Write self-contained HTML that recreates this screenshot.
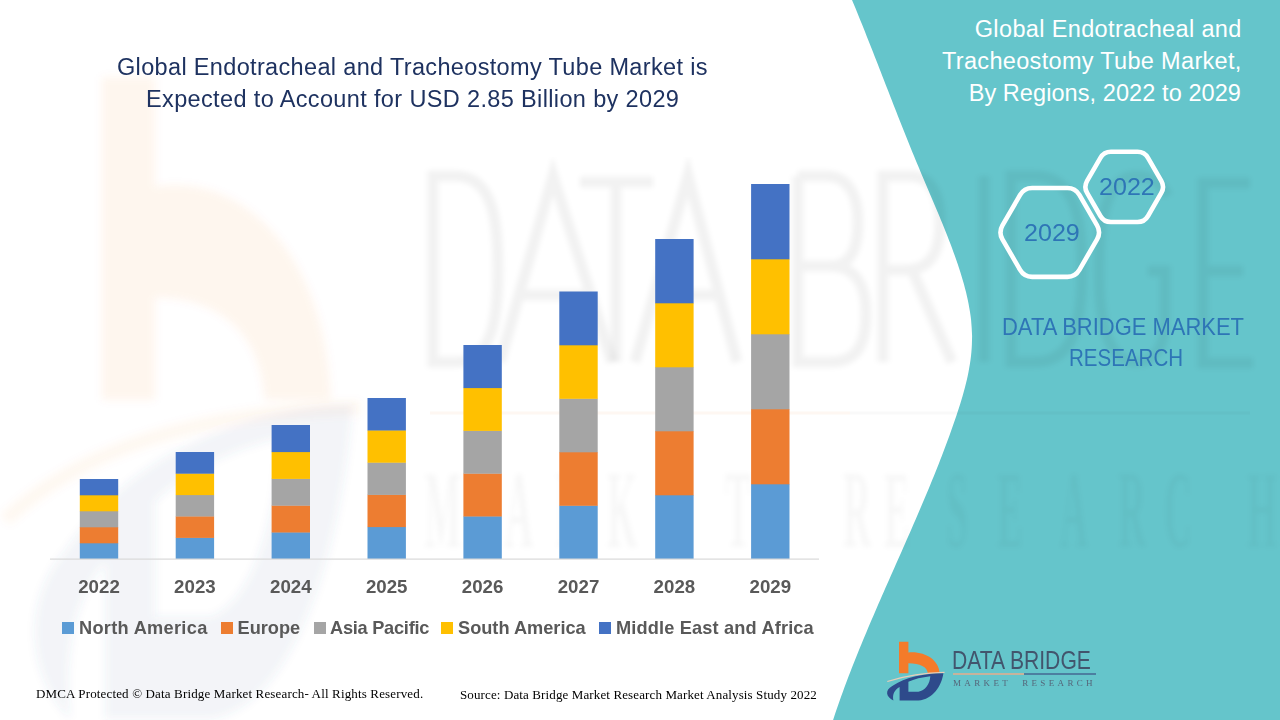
<!DOCTYPE html>
<html><head><meta charset="utf-8">
<style>
html,body{margin:0;padding:0;}
body{width:1280px;height:720px;position:relative;overflow:hidden;background:#ffffff;font-family:"Liberation Sans",sans-serif;}
.abs{position:absolute;white-space:pre;line-height:1;}
.yr{position:absolute;white-space:pre;line-height:1;font-size:18.7px;font-weight:700;color:#595959;width:60px;text-align:center;}
.lg{position:absolute;white-space:pre;line-height:1;font-size:18.2px;font-weight:700;color:#595959;}
.sq{position:absolute;width:12px;height:12px;}
.rt{position:absolute;white-space:pre;line-height:1;font-size:23.5px;color:#ffffff;text-align:right;}
svg{position:absolute;left:0;top:0;}
</style></head><body>
<svg width="1280" height="720" viewBox="0 0 1280 720">
  <defs><filter id="bl" x="-10%" y="-10%" width="120%" height="120%"><feGaussianBlur stdDeviation="2.5"/></filter>
  <filter id="bl2" x="-10%" y="-10%" width="120%" height="120%"><feGaussianBlur stdDeviation="4"/></filter></defs>
  <polygon points="852.0,0 853.7,4 855.4,8 857.0,12 858.6,16 860.2,20 861.9,24 863.5,28 865.1,32 866.6,36 868.2,40 869.8,44 871.4,48 873.0,52 874.5,56 876.1,60 877.7,64 879.2,68 880.8,72 882.3,76 883.9,80 885.4,84 887.0,88 888.6,92 890.1,96 891.7,100 893.2,104 894.8,108 896.4,112 897.9,116 899.5,120 901.1,124 902.7,128 904.3,132 905.9,136 907.5,140 909.1,144 910.7,148 912.3,152 914.0,156 915.6,160 917.3,164 919.0,168 920.6,172 922.3,176 924.0,180 925.7,184 927.4,188 929.1,192 930.8,196 932.5,200 934.2,204 935.9,208 937.6,212 939.3,216 940.9,220 942.6,224 944.2,228 945.8,232 947.4,236 948.9,240 950.5,244 952.0,248 953.4,252 954.9,256 956.3,260 957.7,264 959.0,268 960.3,272 961.5,276 962.7,280 963.9,284 964.9,288 966.0,292 966.9,296 967.8,300 968.6,304 969.3,308 970.0,312 970.6,316 971.1,320 971.4,324 971.7,328 971.9,332 972.1,336 972.0,340 971.9,344 971.7,348 971.4,352 971.0,356 970.5,360 969.9,364 969.2,368 968.5,372 967.7,376 966.8,380 965.8,384 964.8,388 963.7,392 962.6,396 961.4,400 960.2,404 958.9,408 957.6,412 956.3,416 954.9,420 953.5,424 952.1,428 950.7,432 949.3,436 947.8,440 946.3,444 944.8,448 943.3,452 941.8,456 940.2,460 938.7,464 937.1,468 935.5,472 933.9,476 932.2,480 930.6,484 929.0,488 927.3,492 925.6,496 923.9,500 922.2,504 920.5,508 918.8,512 917.1,516 915.4,520 913.6,524 911.9,528 910.2,532 908.4,536 906.6,540 904.9,544 903.1,548 901.4,552 899.6,556 897.8,560 896.0,564 894.3,568 892.5,572 890.7,576 889.0,580 887.2,584 885.4,588 883.7,592 881.9,596 880.2,600 878.4,604 876.7,608 875.0,612 873.3,616 871.5,620 869.8,624 868.1,628 866.5,632 864.8,636 863.1,640 861.5,644 859.8,648 858.2,652 856.6,656 855.0,660 853.4,664 851.8,668 850.3,672 848.7,676 847.2,680 845.7,684 844.2,688 842.8,692 841.3,696 839.9,700 838.5,704 837.1,708 835.7,712 834.4,716 833.1,720 1280,720 1280,0" fill="#65C5CB"/>
  <!-- big logo watermark -->
  <g filter="url(#bl2)">
    <g transform="translate(102,77) scale(5.64,10.25) translate(-899,-641.8)" fill-opacity="0.065"><path d="M899,641.8 L908.4,641.8 L908.4,652.5 C925,651 939,660 939.6,673.3 L927.8,673.3 C927.3,667 920,663.3 908.4,663.3 L908.4,673.3 L899,673.3 Z" fill="#F47B2A"/></g>
    <g transform="translate(102,405) scale(5.64,11.5) translate(-899,-673.3)" fill-opacity="0.065"><path fill-rule="evenodd" d="M943.4,673.3 C941.5,686 933,699.5 918.4,700.6 L899.6,700.6 L899.6,687 C895,689.5 892,694 893.4,700.6 C886,697 884.5,690.5 892.3,686.1 C905,677 925,673.6 943.4,673.3 Z M908.4,681.7 L908.4,691.7 L918.4,691.7 C925,690.5 930,684 930.3,676.2 C922,677.2 914,679 908.4,681.7 Z" fill="#3A5490"/></g>
    <path d="M5,520 C80,450 200,410 360,408" fill="none" stroke="#F47B2A" stroke-opacity="0.055" stroke-width="14"/>
  </g>
  <!-- DATA BRIDGE watermark letters -->
  <g fill="none" stroke="#303030" stroke-opacity="0.05" stroke-width="11" filter="url(#bl)">
    <path d="M433,176 L433,362 L455,362 C492,362 498,320 498,269 C498,218 492,176 455,176 Z"/>
    <path d="M500,362 L553,176 L612,362 M520,295 L592,295"/>
    <path d="M580,182 L653,182 M616,182 L616,362"/>
    <path d="M635,362 L688,176 L737,362 M652,295 L720,295"/>
    <path d="M798,176 L798,362 L830,362 C860,362 866,340 866,313 C866,285 855,266 830,266 L798,266 M830,266 C850,266 858,250 858,222 C858,195 848,176 826,176 L798,176"/>
    <path d="M883,362 L883,176 L910,176 C932,176 940,196 940,222 C940,250 932,270 905,270 L883,270 M912,270 L952,362"/>
    <path d="M984,176 L984,362"/>
    <path d="M1011,176 L1011,362 L1035,362 C1075,362 1082,320 1082,269 C1082,218 1075,176 1035,176 Z"/>
    <path d="M1168,196 C1160,181 1150,176 1136,176 C1108,176 1099,215 1099,269 C1099,323 1108,362 1136,362 C1156,362 1165,345 1165,320 L1165,271 L1148,271"/>
    <path d="M1250,183 L1203,183 L1203,363 L1253,363 M1203,271 L1243,271"/>
  </g>
  <path d="M430,413 L850,413" stroke="#F4B183" stroke-opacity="0.10" stroke-width="3"/>
  <path d="M850,413 L1250,413" stroke="#303030" stroke-opacity="0.03" stroke-width="3"/>
  <g filter="url(#bl)"><g transform="translate(0,547) scale(1,2.9)" font-family="Liberation Serif" font-weight="700" font-size="38" fill="#303030" fill-opacity="0.032" text-anchor="middle"><text x="443" y="0">M</text><text x="519" y="0">A</text><text x="570" y="0">R</text><text x="622" y="0">K</text><text x="680" y="0">E</text><text x="738" y="0">T</text><text x="857" y="0">R</text><text x="897" y="0">E</text><text x="957" y="0">S</text><text x="1010" y="0">E</text><text x="1074" y="0">A</text><text x="1132" y="0">R</text><text x="1178" y="0">C</text><text x="1262" y="0">H</text></g></g>
  <rect x="79.80" y="543.00" width="38.4" height="16.00" fill="#5B9BD5"/>
<rect x="79.80" y="527.00" width="38.4" height="16.30" fill="#ED7D31"/>
<rect x="79.80" y="511.00" width="38.4" height="16.30" fill="#A5A5A5"/>
<rect x="79.80" y="495.00" width="38.4" height="16.30" fill="#FFC000"/>
<rect x="79.80" y="479.00" width="38.4" height="16.30" fill="#4472C4"/>
<rect x="175.70" y="537.60" width="38.4" height="21.40" fill="#5B9BD5"/>
<rect x="175.70" y="516.20" width="38.4" height="21.70" fill="#ED7D31"/>
<rect x="175.70" y="494.80" width="38.4" height="21.70" fill="#A5A5A5"/>
<rect x="175.70" y="473.40" width="38.4" height="21.70" fill="#FFC000"/>
<rect x="175.70" y="452.00" width="38.4" height="21.70" fill="#4472C4"/>
<rect x="271.60" y="532.20" width="38.4" height="26.80" fill="#5B9BD5"/>
<rect x="271.60" y="505.40" width="38.4" height="27.10" fill="#ED7D31"/>
<rect x="271.60" y="478.60" width="38.4" height="27.10" fill="#A5A5A5"/>
<rect x="271.60" y="451.80" width="38.4" height="27.10" fill="#FFC000"/>
<rect x="271.60" y="425.00" width="38.4" height="27.10" fill="#4472C4"/>
<rect x="367.50" y="526.80" width="38.4" height="32.20" fill="#5B9BD5"/>
<rect x="367.50" y="494.60" width="38.4" height="32.50" fill="#ED7D31"/>
<rect x="367.50" y="462.40" width="38.4" height="32.50" fill="#A5A5A5"/>
<rect x="367.50" y="430.20" width="38.4" height="32.50" fill="#FFC000"/>
<rect x="367.50" y="398.00" width="38.4" height="32.50" fill="#4472C4"/>
<rect x="463.40" y="516.20" width="38.4" height="42.80" fill="#5B9BD5"/>
<rect x="463.40" y="473.40" width="38.4" height="43.10" fill="#ED7D31"/>
<rect x="463.40" y="430.60" width="38.4" height="43.10" fill="#A5A5A5"/>
<rect x="463.40" y="387.80" width="38.4" height="43.10" fill="#FFC000"/>
<rect x="463.40" y="345.00" width="38.4" height="43.10" fill="#4472C4"/>
<rect x="559.30" y="505.50" width="38.4" height="53.50" fill="#5B9BD5"/>
<rect x="559.30" y="452.00" width="38.4" height="53.80" fill="#ED7D31"/>
<rect x="559.30" y="398.50" width="38.4" height="53.80" fill="#A5A5A5"/>
<rect x="559.30" y="345.00" width="38.4" height="53.80" fill="#FFC000"/>
<rect x="559.30" y="291.50" width="38.4" height="53.80" fill="#4472C4"/>
<rect x="655.20" y="495.00" width="38.4" height="64.00" fill="#5B9BD5"/>
<rect x="655.20" y="431.00" width="38.4" height="64.30" fill="#ED7D31"/>
<rect x="655.20" y="367.00" width="38.4" height="64.30" fill="#A5A5A5"/>
<rect x="655.20" y="303.00" width="38.4" height="64.30" fill="#FFC000"/>
<rect x="655.20" y="239.00" width="38.4" height="64.30" fill="#4472C4"/>
<rect x="751.10" y="484.00" width="38.4" height="75.00" fill="#5B9BD5"/>
<rect x="751.10" y="409.00" width="38.4" height="75.30" fill="#ED7D31"/>
<rect x="751.10" y="334.00" width="38.4" height="75.30" fill="#A5A5A5"/>
<rect x="751.10" y="259.00" width="38.4" height="75.30" fill="#FFC000"/>
<rect x="751.10" y="184.00" width="38.4" height="75.30" fill="#4472C4"/>
  <rect x="50" y="558.5" width="769" height="1.2" fill="#D9D9D9"/>
</svg>
<div class="abs" id="t1" style="left:117px;top:56.3px;font-size:23.5px;color:#1E3260;letter-spacing:0.34px">Global Endotracheal and Tracheostomy Tube Market is</div>
<div class="abs" id="t2" style="left:146px;top:88px;font-size:23.5px;color:#1E3260;letter-spacing:0.36px">Expected to Account for USD 2.85 Billion by 2029</div>
<div class="yr" style="left:69.00px;top:578px">2022</div>
<div class="yr" style="left:164.90px;top:578px">2023</div>
<div class="yr" style="left:260.80px;top:578px">2024</div>
<div class="yr" style="left:356.70px;top:578px">2025</div>
<div class="yr" style="left:452.60px;top:578px">2026</div>
<div class="yr" style="left:548.50px;top:578px">2027</div>
<div class="yr" style="left:644.40px;top:578px">2028</div>
<div class="yr" style="left:740.30px;top:578px">2029</div>

<div class="sq" style="left:62px;top:622px;background:#5B9BD5"></div>
<div class="lg" style="left:79px;top:619px;letter-spacing:0.3px">North America</div>
<div class="sq" style="left:221px;top:622px;background:#ED7D31"></div>
<div class="lg" style="left:237.5px;top:619px">Europe</div>
<div class="sq" style="left:314px;top:622px;background:#A5A5A5"></div>
<div class="lg" style="left:330px;top:619px;letter-spacing:-0.25px">Asia Pacific</div>
<div class="sq" style="left:441px;top:622px;background:#FFC000"></div>
<div class="lg" style="left:458px;top:619px">South America</div>
<div class="sq" style="left:599px;top:622px;background:#4472C4"></div>
<div class="lg" style="left:616px;top:619px;letter-spacing:0.16px">Middle East and Africa</div>

<div class="abs" style="left:36px;top:687px;font-family:'Liberation Serif',serif;font-size:13px;color:#000;letter-spacing:0.15px">DMCA Protected © Data Bridge Market Research- All Rights Reserved.</div>
<div class="abs" style="left:460px;top:688px;font-family:'Liberation Serif',serif;font-size:13px;color:#000;letter-spacing:0.12px">Source: Data Bridge Market Research Market Analysis Study 2022</div>

<div class="rt" style="top:18.3px;right:38.3px;letter-spacing:0.36px">Global Endotracheal and</div>
<div class="rt" style="top:50px;right:38.3px;letter-spacing:0.32px">Tracheostomy Tube Market,</div>
<div class="rt" style="top:82px;right:39px;letter-spacing:0.08px">By Regions, 2022 to 2029</div>

<svg width="1280" height="720" viewBox="0 0 1280 720">
  <path d="M1097.05,225.47 Q1101.05,232.40 1097.05,239.33 L1079.40,269.90 Q1075.40,276.83 1067.40,276.83 L1032.10,276.83 Q1024.10,276.83 1020.10,269.90 L1002.45,239.33 Q998.45,232.40 1002.45,225.47 L1020.10,194.90 Q1024.10,187.97 1032.10,187.97 L1067.40,187.97 Q1075.40,187.97 1079.40,194.90 Z" fill="none" stroke="#ffffff" stroke-width="4.6"/>
  <path d="M1161.30,180.84 Q1164.80,186.90 1161.30,192.96 L1148.00,216.00 Q1144.50,222.06 1137.50,222.06 L1110.90,222.06 Q1103.90,222.06 1100.40,216.00 L1087.10,192.96 Q1083.60,186.90 1087.10,180.84 L1100.40,157.80 Q1103.90,151.74 1110.90,151.74 L1137.50,151.74 Q1144.50,151.74 1148.00,157.80 Z" fill="none" stroke="#ffffff" stroke-width="4.6"/>
  <path d="M899,641.8 L908.4,641.8 L908.4,652.5 C925,651 939,660 939.6,673.3 L927.8,673.3 C927.3,667 920,663.3 908.4,663.3 L908.4,673.3 L899,673.3 Z" fill="#F47B2A"/>
  <path d="M887.3,681.5 C905,676 925,672.6 944.5,672.4" fill="none" stroke="#E9CDB8" stroke-width="1.3"/>
  <path fill-rule="evenodd" d="M943.4,673.3 C941.5,686 933,699.5 918.4,700.6 L899.6,700.6 L899.6,687 C895,689.5 892,694 893.4,700.6 C886,697 884.5,690.5 892.3,686.1 C905,677 925,673.6 943.4,673.3 Z M908.4,681.7 L908.4,691.7 L918.4,691.7 C925,690.5 930,684 930.3,676.2 C922,677.2 914,679 908.4,681.7 Z" fill="#2E4A8B"/>
</svg>
<div class="abs" style="left:1024px;top:222px;font-size:23px;color:#2E75B6;transform:scaleX(1.09);transform-origin:0 0">2029</div>
<div class="abs" style="left:1099px;top:176px;font-size:23px;color:#2E75B6;transform:scaleX(1.09);transform-origin:0 0">2022</div>

<div class="abs" style="left:1002px;top:314.5px;font-size:24px;color:#2E75B6;transform:scaleX(0.915);transform-origin:0 0">DATA BRIDGE MARKET</div>
<div class="abs" style="left:1069px;top:346px;font-size:24px;color:#2E75B6;transform:scaleX(0.855);transform-origin:0 0">RESEARCH</div>

<div class="abs" style="left:952px;top:648px;font-size:25px;color:#42556D;transform:scaleX(0.845);transform-origin:0 0">DATA BRIDGE</div>
<div class="abs" style="left:953px;top:673px;width:71px;height:1.5px;background:#C7B39B"></div>
<div class="abs" style="left:1024px;top:673px;width:72px;height:1.5px;background:#4C7FA0"></div>
<div class="abs" style="left:953px;top:679px;font-family:'Liberation Serif',serif;font-size:9px;color:#55667A;letter-spacing:3.35px">MARKET  RESEARCH</div>
</body></html>
